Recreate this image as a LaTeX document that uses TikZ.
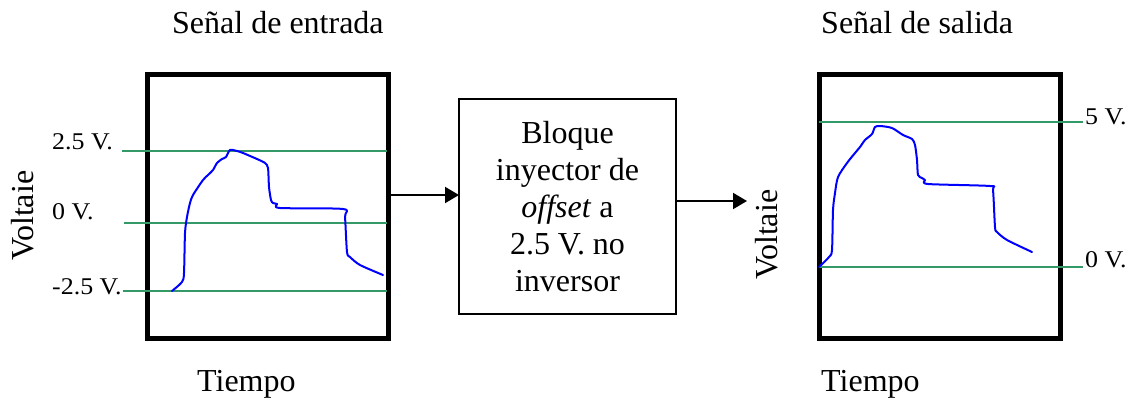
\documentclass[tikz,border=0pt]{standalone}
\usepackage{fontspec}
\setmainfont{Liberation Serif}
\newfontfamily\lblfont{Liberation Serif}[FakeStretch=1.08]
\usetikzlibrary{arrows.meta}
\definecolor{levelgreen}{RGB}{51,153,102}
\definecolor{wave}{RGB}{0,0,255}
\begin{document}
\begin{tikzpicture}[x=1pt,y=-1pt,
  scopebox/.style={draw,line width=5pt,minimum width=241pt,minimum height=264pt,
    inner sep=0pt,outer sep=0pt},
  blockbox/.style={draw,line width=1.5pt,minimum width=217pt,minimum height=215pt,
    inner sep=0pt,outer sep=0pt,align=center,font=\fontsize{32}{37}\selectfont},
  caption/.style={anchor=base west,inner sep=0pt,font=\fontsize{32}{37}\selectfont},
  axislabel/.style={anchor=base west,inner sep=0pt,rotate=90,font=\fontsize{32}{37}\selectfont},
  levellabel/.style={anchor=base west,inner sep=0pt,font=\lblfont\fontsize{24}{28}\selectfont},
  level/.style={draw=levelgreen,line width=2pt},
  signal/.style={draw=wave,line width=2pt,line join=round,line cap=round},
  flow/.style={draw,line width=2pt,-{Triangle[length=14pt,width=16pt]}}
]
\useasboundingbox (0,0) rectangle (1131,402);

% input scope
\node[scopebox] (inscope) at (268,206.5) {};
\node[caption] (intitle) at (172,33) {Señal de entrada};
\node[caption] (intime) at (197,391) {Tiempo};
\node[axislabel] (involt) at (33,261) {Voltaie};
\node[levellabel] (inhi) at (52,149) {2.5 V.};
\node[levellabel] (inzero) at (52,219) {0 V.};
\node[levellabel] (inlo) at (52,294) {-2.5 V.};
\draw[level] (122,151) -- (387,151);
\draw[level] (124,223) -- (387,223);
\draw[level] (123,291) -- (387,291);
\draw[signal] plot[smooth,tension=0.45] coordinates {
  (172,291) (182,282) (184,273) (185,233) (187,217) (190,203) (193,195)
  (203,180) (208,175) (213,170) (217,163) (222,159) (226,157) (230,150)
  (237,151) (243,153) (257,159) (265,163) (268,168) (269,187) (271,200)
  (273,203) (277,204) (280,208) (343,209) (345,217) (347,252) (350,257)
  (360,265) (383,275)};

% offset block
\node[blockbox] (block) at (567.5,206.5)
  {Bloque\\inyector de\\\textit{offset} a\\2.5 V. no\\inversor};

% output scope
\node[scopebox] (outscope) at (939.5,206.5) {};
\node[caption] (outtitle) at (821,33) {Señal de salida};
\node[caption] (outtime) at (821,391) {Tiempo};
\node[axislabel] (outvolt) at (777,280) {Voltaie};
\node[levellabel] (outhi) at (1085,124) {5 V.};
\node[levellabel] (outzero) at (1085,267) {0 V.};
\draw[level] (819,122) -- (1083,122);
\draw[level] (819,267) -- (1083,267);
\draw[signal] plot[smooth,tension=0.45] coordinates {
  (819,267) (829,257) (832,250) (833,210) (835,193) (838,177) (847,163)
  (855,153) (860,147) (865,140) (872,134) (875,127) (880,126) (892,128)
  (903,135) (912,139) (915,145) (917,160) (918,175) (922,178) (925,180)
  (928,184) (990,186) (993,190) (995,227) (997,232) (1007,240) (1032,252)};

% signal flow
\coordinate (inflow) at (400,195);
\coordinate (outflow) at (747,201);
\draw[flow] (inscope.east |- inflow) -- (block.west |- inflow);
\draw[flow] (block.east |- outflow) -- (outflow);
\end{tikzpicture}
\end{document}
